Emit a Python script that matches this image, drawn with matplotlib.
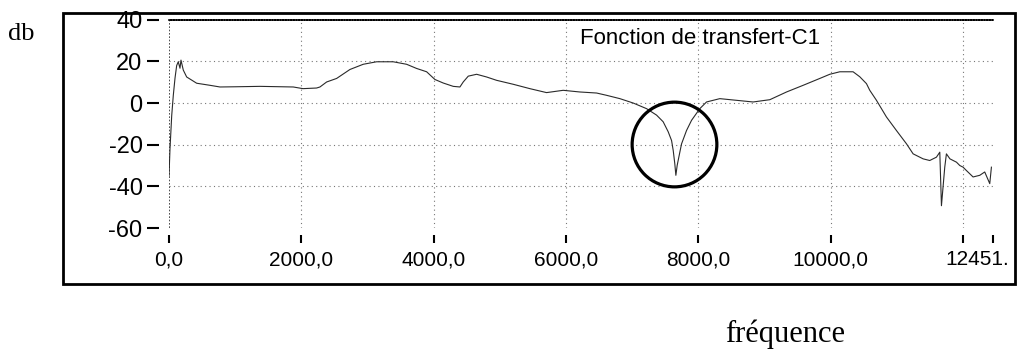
import matplotlib
matplotlib.use("Agg")
import matplotlib.pyplot as plt
import matplotlib.transforms as mtransforms
from matplotlib.patches import Rectangle

# Transfer function C1 (Hz, dB)
freq = [0, 15, 41, 65, 91, 116, 140, 166, 181, 216, 267, 343, 418, 620, 770,
        1000, 1375, 1878, 2024, 2230, 2281, 2382, 2533, 2734, 2935, 3137,
        3388, 3590, 3741, 3893, 4018, 4144, 4295, 4396, 4446, 4522, 4648,
        4799, 4950, 5201, 5453, 5705, 5956, 6208, 6461, 6612, 6813, 7014,
        7216, 7367, 7467, 7543, 7594, 7619, 7643, 7659, 7679, 7719, 7745,
        7820, 7896, 8021, 8122, 8323, 8575, 8826, 9079, 9331, 9582, 9834,
        9985, 10136, 10337, 10438, 10539, 10589, 10690, 10841, 10992, 11144,
        11244, 11395, 11495, 11596, 11647, 11672, 11722, 11747, 11800, 11899,
        11949, 11999, 12049, 12150, 12251, 12326, 12402, 12427]
gain = [-35, -22, -6, 3.7, 12, 18, 19.8, 16.7, 20.6, 15.8, 12.5, 11, 9.5, 8.5, 7.7,
        7.8, 8.0, 7.7, 6.9, 7.2, 7.7, 10.1, 11.8, 16.1, 18.6, 19.8,
        19.8, 18.6, 16.6, 15.0, 11.3, 9.6, 8.0, 7.7, 10.1, 12.9, 13.8,
        12.5, 10.9, 9.0, 6.9, 5.0, 6.1, 5.3, 4.8, 3.7, 2.1, 0.0,
        -2.7, -5.8, -9.0, -13.8, -18.0, -22.8, -29.2, -34.7, -29.9, -23.6, -19.6,
        -13.2, -8.3, -2.7, 0.5, 2.1, 1.3, 0.5, 1.6, 5.3, 8.5, 11.8,
        13.8, 15.0, 15.0, 12.6, 9.3, 6.1, 1.3, -6.7, -13.2, -19.6,
        -24.4, -26.8, -27.6, -26.0, -23.6, -49.3, -30.8, -24.4, -26.8, -28.4,
        -30.0, -30.8, -32.4, -35.5, -34.7, -33.1, -38.7, -30.8]

x_ticks = [0, 2000, 4000, 6000, 8000, 10000, 12000, 12451]
x_labels = ["0,0", "2000,0", "4000,0", "6000,0", "8000,0", "10000,0", "", "12451."]
y_ticks = [-60, -40, -20, 0, 20, 40]
y_labels = ["-60", "-40", "-20", "0", "20", "40"]

# circled notch
notch_f, notch_db = 7628, -19.7

W, H = 1019, 351
fig = plt.figure(figsize=(W / 100, H / 100), dpi=100)
fig.patch.set_facecolor("white")

# outer frame around the instrument plot
fig.patches.append(Rectangle((63 / W, 1 - 284 / H), (1015 - 63) / W, (284 - 13) / H,
                             transform=fig.transFigure, fill=False,
                             edgecolor="black", linewidth=2))

ax = fig.add_axes([169 / W, 1 - 228 / H, (993 - 169) / W, (228 - 19.7) / H])
ax.set_xlim(0, 12451)
ax.set_ylim(-60, 40)

for s in ["right", "bottom", "left"]:
    ax.spines[s].set_visible(False)
ax.spines["top"].set_linestyle((0, (1, 0.6)))
ax.spines["top"].set_linewidth(1.2)
ax.spines["left"].set_position(("outward", 7))
ax.spines["bottom"].set_position(("outward", 5))
ax.axvline(0, color="#333333", linestyle=(0, (1, 1)), linewidth=1.2)

for y in [20, 0, -20, -40]:
    ax.axhline(y, color="#777777", linestyle=(0, (1, 3)), linewidth=0.8)
for x in [2000, 4000, 6000, 8000, 10000, 12000]:
    ax.axvline(x, color="#777777", linestyle=(0, (1, 3)), linewidth=0.8)

ax.plot(freq, gain, color="#2a2a2a", linewidth=0.8)
ax.plot(notch_f, notch_db, marker="o", markersize=61, markerfacecolor="none",
        markeredgecolor="black", markeredgewidth=2.3)

ax.set_xticks(x_ticks)
ax.set_xticklabels(x_labels, family="Liberation Sans", fontsize=15)
ax.set_yticks(y_ticks)
ax.set_yticklabels(y_labels, family="Liberation Sans", fontsize=17)
ax.tick_params(axis="x", length=6, width=1.5, pad=5)
ax.tick_params(axis="y", length=9, width=1.5, pad=3)

# last label sits a little left of its tick, against the frame
last = ax.get_xticklabels()[-1]
last.set_transform(last.get_transform() + mtransforms.ScaledTranslation(-16 / 100, 0, fig.dpi_scale_trans))

fig.text(580 / W, 1 - 44 / H, "Fonction de transfert-C1", family="Liberation Sans",
         fontsize=16, ha="left", va="baseline")
fig.text(8 / W, 1 - 40 / H, "db", family="Liberation Serif", fontsize=19,
         ha="left", va="baseline")
fig.text(725 / W, 1 - 342 / H, "fréquence", family="Liberation Serif", fontsize=22,
         ha="left", va="baseline")

fig.savefig("out.png", dpi=100)
